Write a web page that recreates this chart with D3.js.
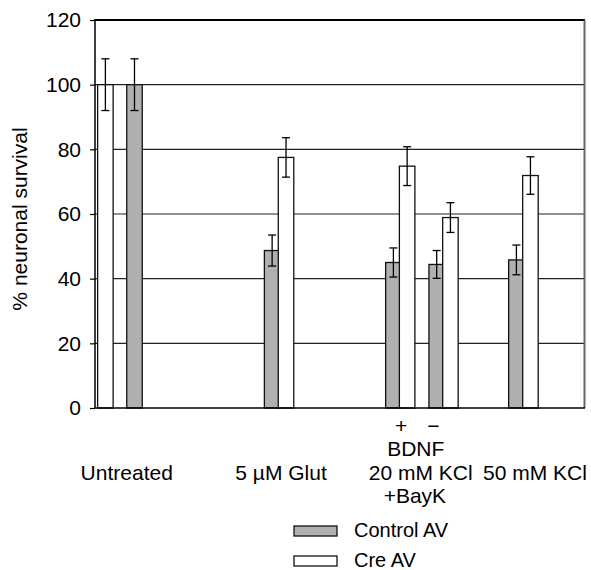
<!DOCTYPE html>
<html>
<head>
<meta charset="utf-8">
<script src="https://cdn.jsdelivr.net/npm/d3@7"></script>
<style>
  html, body { margin: 0; padding: 0; background: #fff; }
  svg { display: block; }
  text { font-family: "Liberation Sans", Arial, Helvetica, sans-serif; fill: #000; }
</style>
</head>
<body>
<svg id="chart" width="591" height="570"></svg>
<script>
// ---- Data ----
const categories = ["Untreated", "5 µM Glut", "BDNF +", "BDNF −", "50 mM KCl"];
const controlAV  = [100, 48.7, 45.0, 44.4, 45.8];
const controlErr = [8, 4.8, 4.5, 4.3, 4.6];
const creAV      = [100, 77.5, 74.8, 58.9, 71.9];
const creErr     = [8, 6.1, 6.0, 4.6, 5.8];
const yTicks     = [0, 20, 40, 60, 80, 100, 120];
const seriesNames = ["Control AV", "Cre AV"];
const groupLabels = ["Untreated", "5 µM Glut", "20 mM KCl", "50 mM KCl"];
const bdnfSigns   = ["+", "−"];

// ---- Layout (slot units along the x axis) ----
const slotDomain = [0, 33.5];
const ctlSlot = [2.17, 11.58, 19.87, 22.83, 28.28];
const creSlot = [0.18, 12.53, 20.81, 23.77, 29.24];
const barSlots = 1.06;
const groupLabelSlot = [2.17, 12.72, 22.27, 30.08];
const signSlot = [20.93, 23.13];
const bdnfSlot = 21.93, baykSlot = 21.87;

const svg = d3.select("#chart");
const plot = { left: 95, right: 585, top: 20, bottom: 408 };
const fs = "21px";

const x = d3.scaleLinear().domain(slotDomain).range([plot.left, plot.right]);
const y = d3.scaleLinear().domain([0, 120]).range([plot.bottom, plot.top]);
const bw = x(barSlots) - x(0);

// gridlines
svg.append("g").selectAll("line").data(yTicks.filter(t => t > 0 && t < 120)).join("line")
  .attr("x1", plot.left).attr("x2", plot.right)
  .attr("y1", d => y(d)).attr("y2", d => y(d))
  .attr("stroke", "#222").attr("stroke-width", 1.1);

// y axis
const yAxis = d3.axisLeft(y).tickValues(yTicks).tickSize(5).tickPadding(9);
const ga = svg.append("g").attr("transform", `translate(${plot.left},0)`).call(yAxis);
ga.select(".domain").remove();
ga.selectAll(".tick line").attr("stroke", "#000").attr("stroke-width", 1.2);
ga.selectAll(".tick text").style("font-size", fs).attr("font-family", null);

// frame: top and right
svg.append("line").attr("x1", plot.left).attr("x2", plot.right)
  .attr("y1", y(120)).attr("y2", y(120)).attr("stroke", "#000").attr("stroke-width", 2);
svg.append("line").attr("x1", plot.right - 0.5).attr("x2", plot.right - 0.5)
  .attr("y1", y(120)).attr("y2", y(0)).attr("stroke", "#666").attr("stroke-width", 2);

// bars
const ctlData = categories.map((c, i) => ({ c, v: controlAV[i], e: controlErr[i], s: ctlSlot[i] }));
const creData = categories.map((c, i) => ({ c, v: creAV[i], e: creErr[i], s: creSlot[i] }));

function drawSeries(data, fill) {
  const g = svg.append("g");
  g.selectAll("rect").data(data).join("rect")
    .attr("x", d => x(d.s)).attr("width", bw)
    .attr("y", d => y(d.v)).attr("height", d => y(0) - y(d.v))
    .attr("fill", fill).attr("stroke", "#111").attr("stroke-width", 1.3);
  const eb = g.selectAll("g.eb").data(data).join("g").attr("class", "eb");
  eb.append("line")
    .attr("x1", d => x(d.s) + bw / 2).attr("x2", d => x(d.s) + bw / 2)
    .attr("y1", d => y(d.v + d.e)).attr("y2", d => y(d.v - d.e));
  eb.append("line")
    .attr("x1", d => x(d.s) + bw / 2 - 4).attr("x2", d => x(d.s) + bw / 2 + 4)
    .attr("y1", d => y(d.v + d.e)).attr("y2", d => y(d.v + d.e));
  eb.append("line")
    .attr("x1", d => x(d.s) + bw / 2 - 4).attr("x2", d => x(d.s) + bw / 2 + 4)
    .attr("y1", d => y(d.v - d.e)).attr("y2", d => y(d.v - d.e));
  eb.selectAll("line").attr("stroke", "#000").attr("stroke-width", 1.3);
}
drawSeries(ctlData, "#b0b0b0");
drawSeries(creData, "#ffffff");

// left axis line and zero line
svg.append("line").attr("x1", plot.left).attr("x2", plot.left)
  .attr("y1", y(120) - 1).attr("y2", y(0)).attr("stroke", "#000").attr("stroke-width", 1.5);
svg.append("line").attr("x1", plot.left).attr("x2", plot.right)
  .attr("y1", y(0)).attr("y2", y(0)).attr("stroke", "#000").attr("stroke-width", 1.3);

// y axis title
svg.append("text")
  .attr("transform", `translate(27,${(y(0) + y(120)) / 2 + 5}) rotate(-90)`)
  .attr("text-anchor", "middle").style("font-size", fs)
  .text("% neuronal survival");

// x labels
const lab = svg.append("g").style("font-size", fs).attr("text-anchor", "middle");
lab.selectAll("text.grp").data(groupLabels).join("text").attr("class", "grp")
  .attr("x", (d, i) => x(groupLabelSlot[i])).attr("y", 480).text(d => d);
lab.selectAll("text.sign").data(bdnfSigns).join("text").attr("class", "sign")
  .attr("x", (d, i) => x(signSlot[i])).attr("y", 433).text(d => d);
lab.append("text").attr("x", x(bdnfSlot)).attr("y", 456).text("BDNF");
lab.append("text").attr("x", x(baykSlot)).attr("y", 503).text("+BayK");

// legend
const leg = svg.append("g");
const legFills = ["#b0b0b0", "#ffffff"];
const li = leg.selectAll("g").data(seriesNames).join("g")
  .attr("transform", (d, i) => `translate(294,${526 + i * 30})`);
li.append("rect").attr("width", 43).attr("height", 10)
  .attr("fill", (d, i) => legFills[i]).attr("stroke", "#111").attr("stroke-width", 1.3);
li.append("text").attr("x", 60).attr("y", 11).style("font-size", "20px").text(d => d);
</script>
</body>
</html>
